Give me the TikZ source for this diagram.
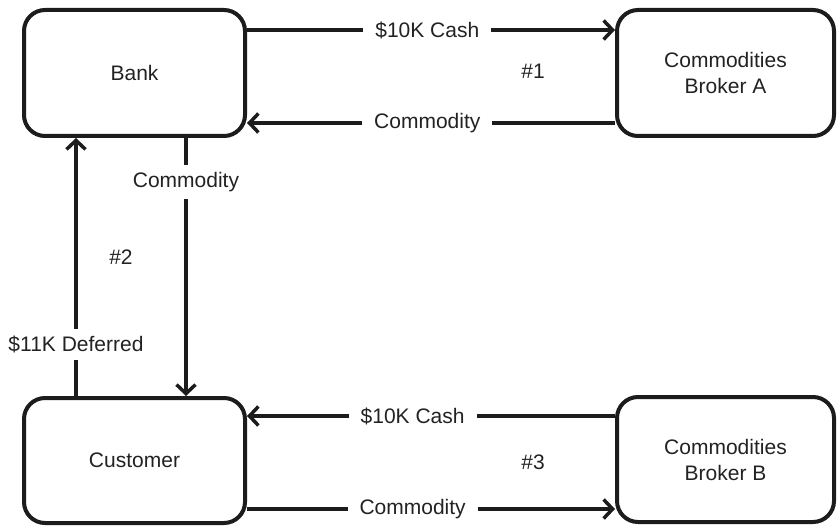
\documentclass[tikz,border=0pt]{standalone}
\usepackage{fontspec}
\setmainfont{Liberation Sans}
\usetikzlibrary{arrows.meta}
\definecolor{ink}{HTML}{1C1C1C}
\definecolor{txt}{HTML}{222222}
\begin{document}
\begin{tikzpicture}[x=1pt,y=-1pt,
  font=\fontsize{21}{26}\selectfont,
  party/.style={draw=ink, line width=4pt, rounded corners=21pt, fill=white,
    text=txt, align=center, inner sep=0pt},
  flow/.style={draw=ink, line width=3.5pt,
    -{Straight Barb[length=9pt, width=19pt, line width=3.5pt]}},
  lbl/.style={fill=white, text=txt, inner xsep=12pt, inner ysep=7pt},
  tag/.style={text=txt}]
\useasboundingbox (0,0) rectangle (837,526);

% parties
\node[party, minimum width=221pt, minimum height=126pt] (bank) at (134.5,73) {Bank};
\node[party, minimum width=217pt, minimum height=126pt] (brokerA) at (725.5,73) {Commodities\\Broker A};
\node[party, minimum width=221pt, minimum height=125pt] (cust) at (134.5,460.5) {Customer};
\node[party, minimum width=217pt, minimum height=125pt] (brokerB) at (725.5,459.5) {Commodities\\Broker B};

% row and column positions of the connectors
\coordinate (r1) at (0,30);
\coordinate (r2) at (0,123);
\coordinate (r3) at (0,416);
\coordinate (r4) at (0,509);
\coordinate (c1) at (76,0);
\coordinate (c2) at (186,0);

% transaction #1
\draw[flow] (bank.east |- r1) -- node[lbl, pos=0.49]{\$10K Cash} (brokerA.west |- r1);
\draw[flow] (brokerA.west |- r2) -- node[lbl, pos=0.51]{Commodity} (bank.east |- r2);
\node[tag] (t1) at (533,71) {\#1};

% transaction #2
\draw[flow] (bank.south -| c2) -- node[lbl, pos=0.17]{Commodity} (cust.north -| c2);
\draw[flow] (cust.north -| c1) -- node[lbl, pos=0.2]{\$11K Deferred} (bank.south -| c1);
\node[tag] (t2) at (121,257) {\#2};

% transaction #3
\draw[flow] (brokerB.west |- r3) -- node[lbl, pos=0.55]{\$10K Cash} (cust.east |- r3);
\draw[flow] (cust.east |- r4) -- node[lbl, pos=0.45]{Commodity} (brokerB.west |- r4);
\node[tag] (t3) at (533,462) {\#3};
\end{tikzpicture}
\end{document}
